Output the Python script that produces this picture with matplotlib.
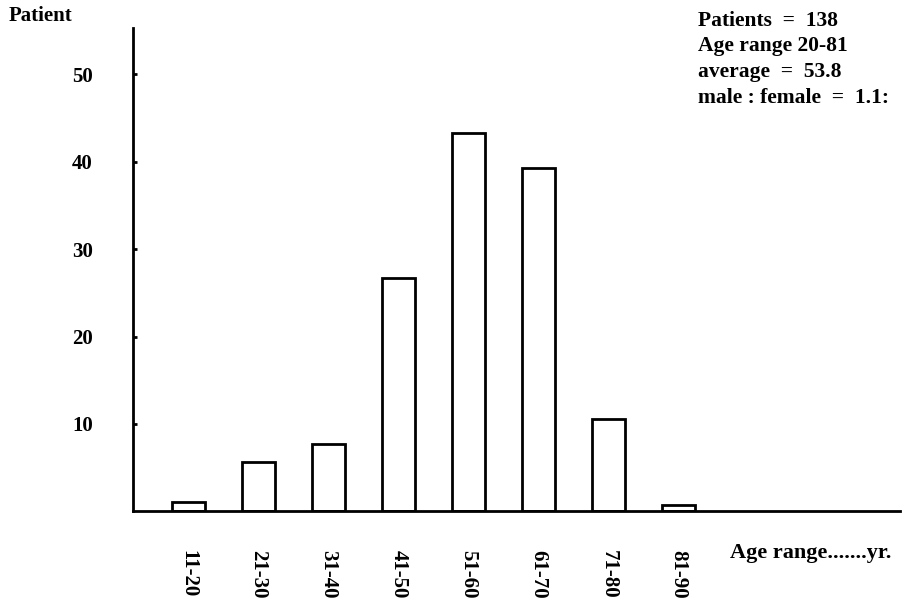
import numpy as np
import matplotlib.pyplot as plt

plt.rcParams['font.family'] = ['Liberation Serif', 'DejaVu Serif']
plt.rcParams['font.weight'] = 'bold'

age_groups = ['11-20', '21-30', '31-40', '41-50', '51-60', '61-70', '71-80', '81-90']
patients = [1, 5.6, 7.7, 26.7, 43.3, 39.3, 10.5, 0.7]
y_ticks = [10, 20, 30, 40, 50]
info_lines = ['Patients  =  138', 'Age range 20-81', 'average  =  53.8',
              'male : female  =  1.1:']

fig = plt.figure(figsize=(9.05, 6), dpi=100)
ax = fig.add_axes([0.147, 0.148, 0.848, 0.805])

x = np.arange(len(age_groups))
ax.bar(x, patients, width=0.48, facecolor='white', edgecolor='black',
       linewidth=2)

ax.set_xlim(-0.79, 10.17)
ax.set_ylim(0, 55.3)

for side in ['top', 'right']:
    ax.spines[side].set_visible(False)
ax.spines['left'].set_linewidth(2)
ax.spines['bottom'].set_linewidth(2)

ax.set_yticks(y_ticks)
ax.set_yticklabels([str(v) for v in y_ticks], fontsize=15, fontweight='bold')
ax.tick_params(axis='y', direction='in', length=3, width=2, pad=29)

ax.set_xticks(x)
ax.set_xticklabels(age_groups, rotation=-90, fontsize=15, fontweight='bold')
ax.tick_params(axis='x', length=0, pad=28)

fig.text(0.009, 0.973, 'Patient', fontsize=15, fontweight='bold',
         ha='left', va='center')
fig.text(0.807, 0.078, 'Age range.......yr.', fontsize=16, fontweight='bold',
         ha='left', va='center')

for i, line in enumerate(info_lines):
    fig.text(0.771, 0.965 - i * 0.0425, line, fontsize=15.5, fontweight='bold',
             ha='left', va='center')

fig.savefig('out.png', dpi=100)
